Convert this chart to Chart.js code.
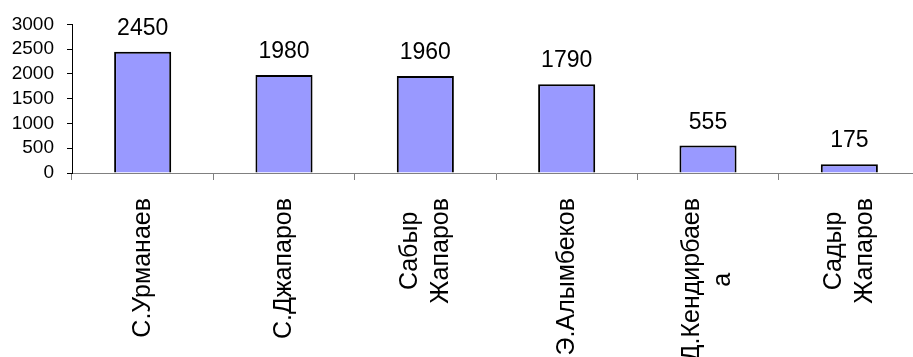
<!DOCTYPE html>
<html>
<head>
<meta charset="utf-8">
<script src="https://cdn.jsdelivr.net/npm/chart.js@4/dist/chart.umd.min.js"></script>
<style>
  html, body { margin: 0; padding: 0; background: #fff; overflow: hidden; }
  canvas { display: block; }
</style>
</head>
<body>
<canvas id="myChart" width="920" height="357"></canvas>
<script>
const names = [
  'С.Урманаев',
  'С.Джапаров',
  ['Сабыр', 'Жапаров'],
  'Э.Алымбеков',
  ['Д.Кендирбаев', 'а'],
  ['Садыр', 'Жапаров'],
];
const votes = [2450, 1980, 1960, 1790, 555, 175];
const yTicks = [0, 500, 1000, 1500, 2000, 2500, 3000];

const font = 'Liberation Sans, Arial, sans-serif';

// values above the bars
const barValues = {
  id: 'barValues',
  afterDatasetsDraw(chart) {
    const ctx = chart.ctx;
    const meta = chart.getDatasetMeta(0);
    ctx.save();
    ctx.font = '23px ' + font;
    ctx.fillStyle = '#000';
    ctx.textAlign = 'center';
    ctx.textBaseline = 'alphabetic';
    meta.data.forEach((bar, i) => {
      ctx.fillText(String(votes[i]), bar.x, bar.y - 17);
    });
    ctx.restore();
  },
};

// vertical category names, lines centred on each other (Excel style)
const verticalNames = {
  id: 'verticalNames',
  afterDraw(chart) {
    const ctx = chart.ctx;
    const xs = chart.scales.x;
    const lineGap = 31;
    ctx.save();
    ctx.font = '25px ' + font;
    ctx.fillStyle = '#000';
    ctx.textAlign = 'center';
    ctx.textBaseline = 'middle';
    names.forEach((name, i) => {
      const lines = Array.isArray(name) ? name : [name];
      const maxW = Math.max(...lines.map(l => ctx.measureText(l).width));
      const x = xs.getPixelForTick(i);
      const cy = xs.top + 25 + maxW / 2;
      ctx.save();
      ctx.translate(x, cy);
      ctx.rotate(-Math.PI / 2);
      lines.forEach((l, k) => {
        ctx.fillText(l, 0, (k - (lines.length - 1) / 2) * lineGap);
      });
      ctx.restore();
    });
    ctx.restore();
  },
};

const config = {
  type: 'bar',
  data: {
    labels: names,
    datasets: [
      {
        data: votes,
        backgroundColor: '#9999FF',
        borderColor: '#000',
        borderWidth: 2,
        barPercentage: 0.404,
        categoryPercentage: 1,
      },
    ],
  },
  options: {
    responsive: false,
    animation: false,
    events: [],
    layout: { padding: { top: 21, left: 0, right: 0, bottom: 0 } },
    plugins: {
      legend: { display: false },
      tooltip: { enabled: false },
    },
    scales: {
      x: {
        afterFit(scale) { scale.height = 184; },
        grid: {
          display: true,
          offset: true,
          drawOnChartArea: false,
          tickLength: 7,
          color: '#808080',
        },
        border: { color: '#808080', width: 1 },
        ticks: { display: false, autoSkip: false },
      },
      y: {
        min: 0,
        max: 3000,
        afterFit(scale) { scale.width = 72; },
        afterBuildTicks(scale) { scale.ticks = yTicks.map(v => ({ value: v })); },
        grid: {
          display: true,
          drawOnChartArea: false,
          tickLength: 5,
          color: '#000',
        },
        border: { color: '#000', width: 1 },
        ticks: {
          autoSkip: false,
          padding: 13,
          color: '#000',
          font: { family: font, size: 19 },
          callback: v => String(v),
        },
      },
    },
  },
  plugins: [barValues, verticalNames],
};

const myChart = new Chart(document.getElementById('myChart'), config);
</script>
</body>
</html>
